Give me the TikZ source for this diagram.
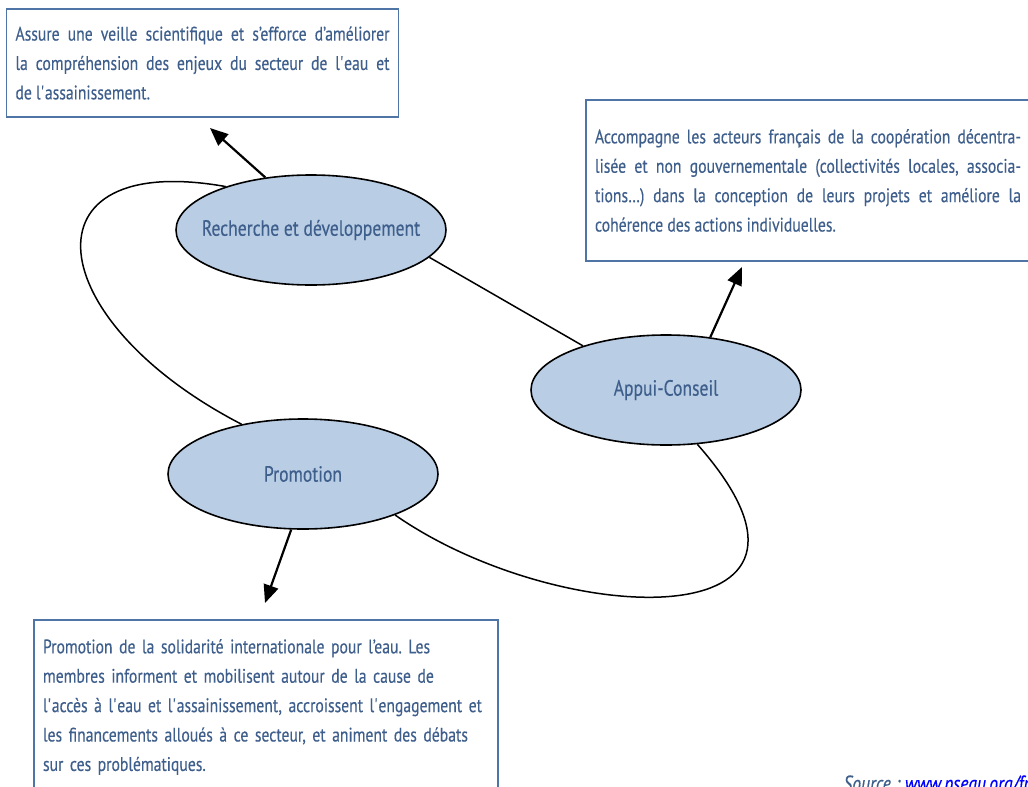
\documentclass[tikz,border=0pt]{standalone}
\usepackage{fontspec}
\setmainfont[FakeStretch=0.8,FakeBold=0.3]{PT Sans}
\usetikzlibrary{positioning,shapes.geometric,arrows.meta}
\definecolor{txtblue}{HTML}{3E5E8C}
\definecolor{boxblue}{HTML}{4F74A6}
\definecolor{ellfill}{HTML}{B9CDE4}
\newcommand{\sq}{\textquotesingle}
\frenchspacing
\tikzset{
	pole/.style={ellipse,draw=black,line width=0.8pt,fill=ellfill,text=txtblue,minimum width=135pt,minimum height=55pt,inner xsep=-7pt,inner ysep=0pt,font=\fontsize{11}{13}\selectfont},
	infobox/.style={draw=boxblue,line width=0.6pt,text=txtblue,inner xsep=4.5pt,inner ysep=0pt,font=\fontsize{9.8}{14.7}\selectfont},
	cycleline/.style={line width=0.75pt},
	pointer/.style={-{Triangle[length=9pt,width=7.5pt]},line width=1.1pt}
}

\begin{document}
\begin{tikzpicture}[x=0.5pt,y=-0.5pt]
		\useasboundingbox (0,0) rectangle (1028,787);
		\clip (0,0) rectangle (1028,787);
		% the three poles
		\node[pole] (rd) at (311,230) {Recherche et développement};
		\node[pole] (ap) at (666,390) {Appui-Conseil};
		\node[pole] (pr) at (303,474) {Promotion};
		% text boxes
		\node[infobox,text width=187pt,minimum height=54pt,align=justify] (veille) at (202.5,63) {Assure une veille scientifique et s’efforce d’améliorer\linebreak la compréhension des enjeux du secteur de l\sq eau et\linebreak de l\sq assainissement.};
		\node[infobox,text width=213pt,minimum height=80.5pt,align=justify] (accomp) at (808,180.5) {Accompagne les acteurs français de la coopération décentra-\linebreak lisée et non gouvernementale (collectivités locales, associa-\linebreak tions…) dans la conception de leurs projets et améliore la\linebreak cohérence des actions individuelles.};
		\node[infobox,text width=223pt,minimum height=87pt,align=left] (solid) at (266,707) {Promotion de la solidarité internationale pour l’eau. Les\\ membres informent et mobilisent autour de la cause de\\ l\sq accès à l\sq eau et l\sq assainissement, accroissent l\sq engagement et\\ les financements alloués à ce secteur, et animent des débats\\ sur ces problématiques.};
		\node[anchor=north west,inner sep=0pt,text=txtblue,font=\fontsize{11}{13}\selectfont\itshape] (src) at (843,775) {Source : \textcolor{blue}{\underline{www.pseau.org/fr}}};
		% links between poles
		\draw[cycleline] (rd.-13) -- (ap.152);
		\draw[cycleline] (rd.153) .. controls (20,150) and (40,320) .. (pr.141);
		\draw[cycleline] (pr.-24) .. controls (560,630) and (870,640) .. (ap.-60);
		% arrows to the boxes
		\coordinate (t1) at (210,128);
		\coordinate (t2) at (742,267);
		\coordinate (t3) at (265,603);
		\draw[pointer] (rd.131) -- (t1);
		\draw[pointer] (ap.50) -- (t2);
		\draw[pointer] (pr.258) -- (t3);
	\end{tikzpicture}
\end{document}
